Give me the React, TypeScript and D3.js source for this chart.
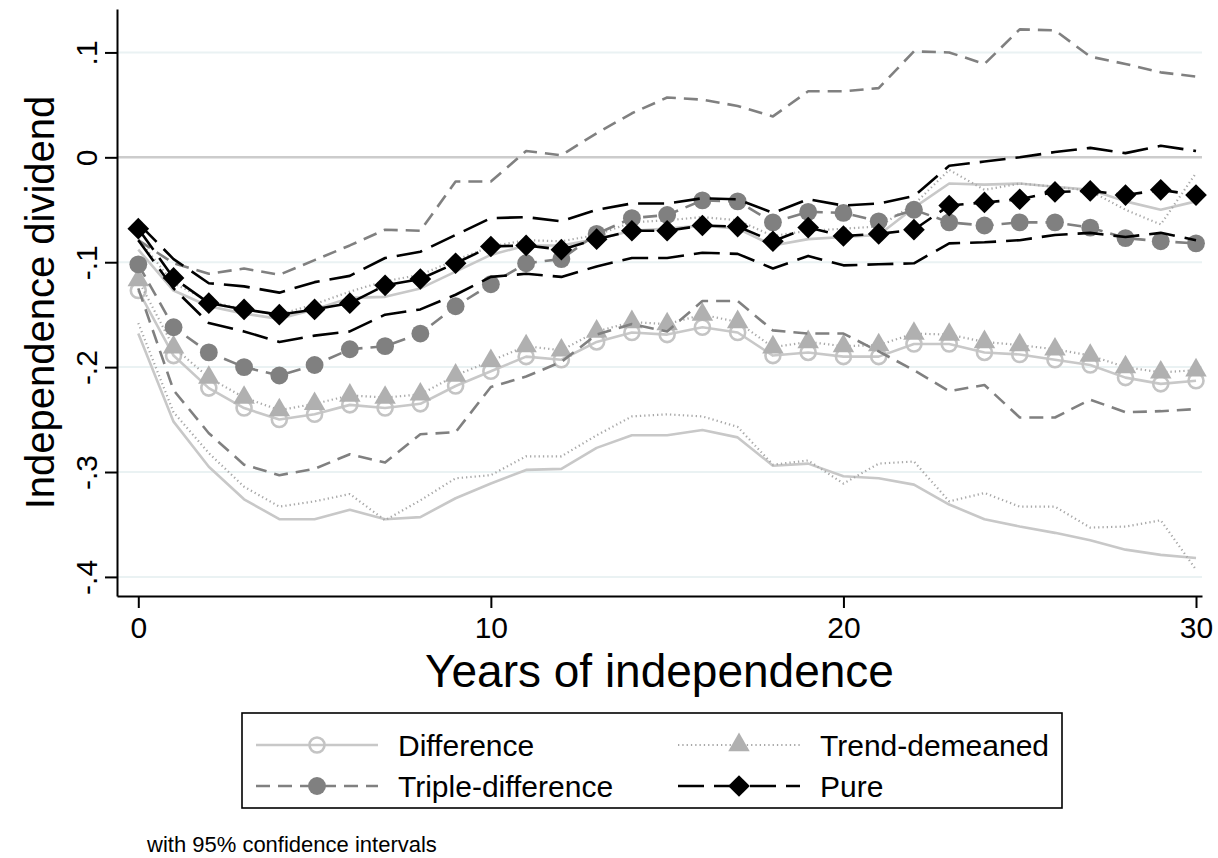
import React, { useRef, useEffect } from 'react';
import * as d3 from 'd3';

// years since independence
const years = [0, 1, 2, 3, 4, 5, 6, 7, 8, 9, 10, 11, 12, 13, 14, 15, 16, 17, 18, 19, 20, 21, 22, 23, 24, 25, 26, 27, 28, 29, 30];

const difference = [-0.127, -0.189, -0.220, -0.239, -0.250, -0.245, -0.236, -0.239, -0.235, -0.218, -0.204, -0.190, -0.193, -0.176, -0.167, -0.169, -0.162, -0.167, -0.189, -0.186, -0.190, -0.190, -0.178, -0.178, -0.186, -0.188, -0.193, -0.198, -0.210, -0.216, -0.213];
const differenceHi = [-0.088, -0.127, -0.142, -0.149, -0.154, -0.145, -0.134, -0.133, -0.125, -0.109, -0.093, -0.084, -0.084, -0.078, -0.070, -0.068, -0.065, -0.068, -0.084, -0.078, -0.076, -0.074, -0.048, -0.025, -0.026, -0.025, -0.028, -0.031, -0.042, -0.050, -0.042];
const differenceLo = [-0.168, -0.252, -0.295, -0.326, -0.345, -0.345, -0.336, -0.345, -0.343, -0.325, -0.311, -0.298, -0.297, -0.277, -0.265, -0.265, -0.260, -0.267, -0.294, -0.292, -0.304, -0.306, -0.312, -0.331, -0.345, -0.352, -0.358, -0.365, -0.374, -0.379, -0.382];

const trend = [-0.117, -0.181, -0.210, -0.229, -0.241, -0.235, -0.227, -0.229, -0.226, -0.208, -0.194, -0.180, -0.184, -0.166, -0.157, -0.159, -0.150, -0.157, -0.181, -0.176, -0.180, -0.179, -0.168, -0.169, -0.176, -0.179, -0.183, -0.189, -0.200, -0.205, -0.203];
const trendHi = [-0.078, -0.120, -0.137, -0.145, -0.150, -0.140, -0.128, -0.118, -0.112, -0.098, -0.085, -0.079, -0.080, -0.074, -0.062, -0.060, -0.057, -0.060, -0.075, -0.070, -0.068, -0.066, -0.045, -0.012, -0.031, -0.025, -0.028, -0.032, -0.050, -0.064, -0.015];
const trendLo = [-0.158, -0.243, -0.282, -0.314, -0.333, -0.328, -0.321, -0.346, -0.327, -0.306, -0.303, -0.285, -0.285, -0.265, -0.247, -0.245, -0.247, -0.257, -0.293, -0.289, -0.311, -0.292, -0.290, -0.328, -0.320, -0.333, -0.333, -0.353, -0.352, -0.346, -0.393];

const triple = [-0.102, -0.162, -0.186, -0.200, -0.208, -0.198, -0.183, -0.180, -0.168, -0.142, -0.121, -0.101, -0.097, -0.073, -0.058, -0.055, -0.041, -0.042, -0.062, -0.052, -0.053, -0.061, -0.050, -0.062, -0.065, -0.062, -0.062, -0.067, -0.077, -0.080, -0.082];
const tripleHi = [-0.079, -0.101, -0.111, -0.106, -0.112, -0.098, -0.084, -0.069, -0.070, -0.023, -0.023, 0.006, 0.002, 0.023, 0.042, 0.057, 0.055, 0.049, 0.039, 0.063, 0.063, 0.066, 0.101, 0.100, 0.089, 0.122, 0.121, 0.096, 0.089, 0.081, 0.077];
const tripleLo = [-0.125, -0.222, -0.263, -0.293, -0.303, -0.297, -0.283, -0.291, -0.264, -0.262, -0.219, -0.209, -0.195, -0.169, -0.159, -0.166, -0.137, -0.137, -0.165, -0.168, -0.168, -0.185, -0.203, -0.223, -0.217, -0.248, -0.248, -0.231, -0.243, -0.242, -0.240];

const pure = [-0.068, -0.115, -0.139, -0.145, -0.150, -0.145, -0.139, -0.122, -0.116, -0.101, -0.085, -0.084, -0.088, -0.078, -0.070, -0.070, -0.065, -0.066, -0.080, -0.067, -0.075, -0.073, -0.069, -0.046, -0.043, -0.040, -0.033, -0.032, -0.036, -0.031, -0.036];
const pureHi = [-0.063, -0.097, -0.120, -0.123, -0.129, -0.119, -0.113, -0.096, -0.090, -0.074, -0.058, -0.057, -0.061, -0.050, -0.044, -0.044, -0.039, -0.040, -0.053, -0.040, -0.046, -0.044, -0.037, -0.008, -0.004, 0.000, 0.005, 0.009, 0.004, 0.011, 0.006];
const pureLo = [-0.079, -0.125, -0.158, -0.166, -0.176, -0.170, -0.166, -0.150, -0.145, -0.131, -0.114, -0.111, -0.114, -0.104, -0.096, -0.096, -0.091, -0.092, -0.106, -0.094, -0.103, -0.102, -0.101, -0.082, -0.081, -0.079, -0.074, -0.072, -0.076, -0.072, -0.079];

const yTicks = [-0.4, -0.3, -0.2, -0.1, 0, 0.1];
const xTicks = [0, 10, 20, 30];

const FONT = "'Liberation Sans', Arial, Helvetica, sans-serif";

const series = [
  { name: 'Difference', est: difference, lo: differenceLo, hi: differenceHi, color: '#c8c8c8', dash: null, marker: 'hollow', mcolor: '#c4c4c4' },
  { name: 'Trend-demeaned', est: trend, lo: trendLo, hi: trendHi, color: '#a8a8a8', dash: '1.3,3', marker: 'triangle', mcolor: '#b0b0b0' },
  { name: 'Triple-difference', est: triple, lo: tripleLo, hi: tripleHi, color: '#808080', dash: '14,8', marker: 'circle', mcolor: '#808080' },
  { name: 'Pure', est: pure, lo: pureLo, hi: pureHi, color: '#000000', dash: '26,10', marker: 'diamond', mcolor: '#000000' },
];

const drawMarker = (g, type, color, cx, cy) => {
  if (type === 'hollow') {
    g.append('circle').attr('cx', cx).attr('cy', cy).attr('r', 7.5)
      .attr('fill', 'none').attr('stroke', color).attr('stroke-width', 2.6);
  } else if (type === 'circle') {
    g.append('path').attr('d', d3.symbol(d3.symbolCircle, 250)())
      .attr('transform', `translate(${cx},${cy})`).attr('fill', color);
  } else if (type === 'triangle') {
    g.append('path').attr('d', d3.symbol(d3.symbolTriangle, 200)())
      .attr('transform', `translate(${cx},${cy})`).attr('fill', color);
  } else {
    g.append('path').attr('d', d3.symbol(d3.symbolSquare, 235)())
      .attr('transform', `translate(${cx},${cy}) rotate(45)`).attr('fill', color);
  }
};

const App = () => {
  const svgRef = useRef(null);

  useEffect(() => {
    document.body.style.margin = '0';
    const svg = d3.select(svgRef.current);
    svg.selectAll('*').remove();

    const left = 117, right = 1202, top = 9, bottom = 596;
    const x = d3.scaleLinear().domain([-0.604, 30.17]).range([left, right]);
    const y = d3.scaleLinear().domain([-0.4182, 0.1414]).range([bottom, top]);

    svg.append('rect').attr('width', 1218).attr('height', 858).attr('fill', '#fff');

    // grid
    svg.append('g').selectAll('line')
      .data(yTicks.filter(d => d !== 0))
      .join('line')
      .attr('x1', left).attr('x2', right)
      .attr('y1', d => y(d)).attr('y2', d => y(d))
      .attr('stroke', '#eaf2f3').attr('stroke-width', 2);
    svg.append('line')
      .attr('x1', left).attr('x2', right)
      .attr('y1', y(0)).attr('y2', y(0))
      .attr('stroke', '#cccccc').attr('stroke-width', 2.4);

    const line = d3.line().x((d, i) => x(years[i])).y(d => y(d));

    series.forEach(s => {
      const g = svg.append('g');
      [s.hi, s.lo, s.est].forEach(vals => {
        g.append('path')
          .attr('d', line(vals))
          .attr('fill', 'none')
          .attr('stroke', s.color)
          .attr('stroke-width', s.marker === 'triangle' ? 2.2 : 2.6)
          .attr('stroke-dasharray', s.dash)
          .attr('stroke-linejoin', 'round');
      });
      s.est.forEach((v, i) => drawMarker(g, s.marker, s.mcolor, x(years[i]), y(v)));
    });

    // axes, Stata style labels: -.4 ... 0 ... .1
    const fmt = d => (d === 0 ? '0' : d3.format('.1f')(d).replace('\u2212', '-').replace(/^(-?)0\./, '$1.'));
    const yAxis = svg.append('g')
      .attr('transform', `translate(${left},0)`)
      .call(d3.axisLeft(y).tickValues(yTicks).tickFormat(fmt).tickSize(12).tickSizeOuter(0));
    yAxis.selectAll('text')
      .attr('x', null).attr('dy', null)
      .attr('text-anchor', 'middle')
      .attr('transform', 'translate(-20,0) rotate(-90)');

    const xAxis = svg.append('g')
      .attr('transform', `translate(0,${bottom})`)
      .call(d3.axisBottom(x).tickValues(xTicks).tickFormat(d3.format('d')).tickSize(12).tickSizeOuter(0));
    xAxis.selectAll('text').attr('dy', null).attr('y', 42);

    [yAxis, xAxis].forEach(a => {
      a.selectAll('path, line').attr('stroke', '#000').attr('stroke-width', 2);
      a.selectAll('text').attr('fill', '#000').style('font-family', FONT).style('font-size', '30px');
    });

    svg.append('text')
      .attr('transform', `translate(54,${(top + bottom) / 2}) rotate(-90)`)
      .attr('text-anchor', 'middle')
      .style('font-family', FONT).style('font-size', '40px')
      .text('Independence dividend');

    svg.append('text')
      .attr('x', (left + right) / 2).attr('y', 687)
      .attr('text-anchor', 'middle')
      .style('font-family', FONT).style('font-size', '46px')
      .text('Years of independence');

    // legend
    const lg = svg.append('g');
    lg.append('rect')
      .attr('x', 242).attr('y', 713).attr('width', 820).attr('height', 95)
      .attr('fill', '#fff').attr('stroke', '#000').attr('stroke-width', 1.6);
    const slots = [
      { s: series[0], x0: 256, row: 745 },
      { s: series[1], x0: 678, row: 745 },
      { s: series[2], x0: 256, row: 786 },
      { s: series[3], x0: 678, row: 786 },
    ];
    slots.forEach(({ s, x0, row }) => {
      lg.append('line')
        .attr('x1', x0).attr('x2', x0 + 122).attr('y1', row).attr('y2', row)
        .attr('stroke', s.color).attr('stroke-width', s.marker === 'triangle' ? 2.2 : 2.6)
        .attr('stroke-dasharray', s.dash);
      drawMarker(lg, s.marker, s.mcolor, x0 + 61, row);
      lg.append('text')
        .attr('x', x0 + 142).attr('y', row + 11)
        .style('font-family', FONT).style('font-size', '30px')
        .text(s.name);
    });

    svg.append('text')
      .attr('x', 147).attr('y', 852)
      .style('font-family', FONT).style('font-size', '22px')
      .text('with 95% confidence intervals');
  }, []);

  return <svg ref={svgRef} width={1218} height={858} style={{ display: 'block' }}></svg>;
};

export default App;
